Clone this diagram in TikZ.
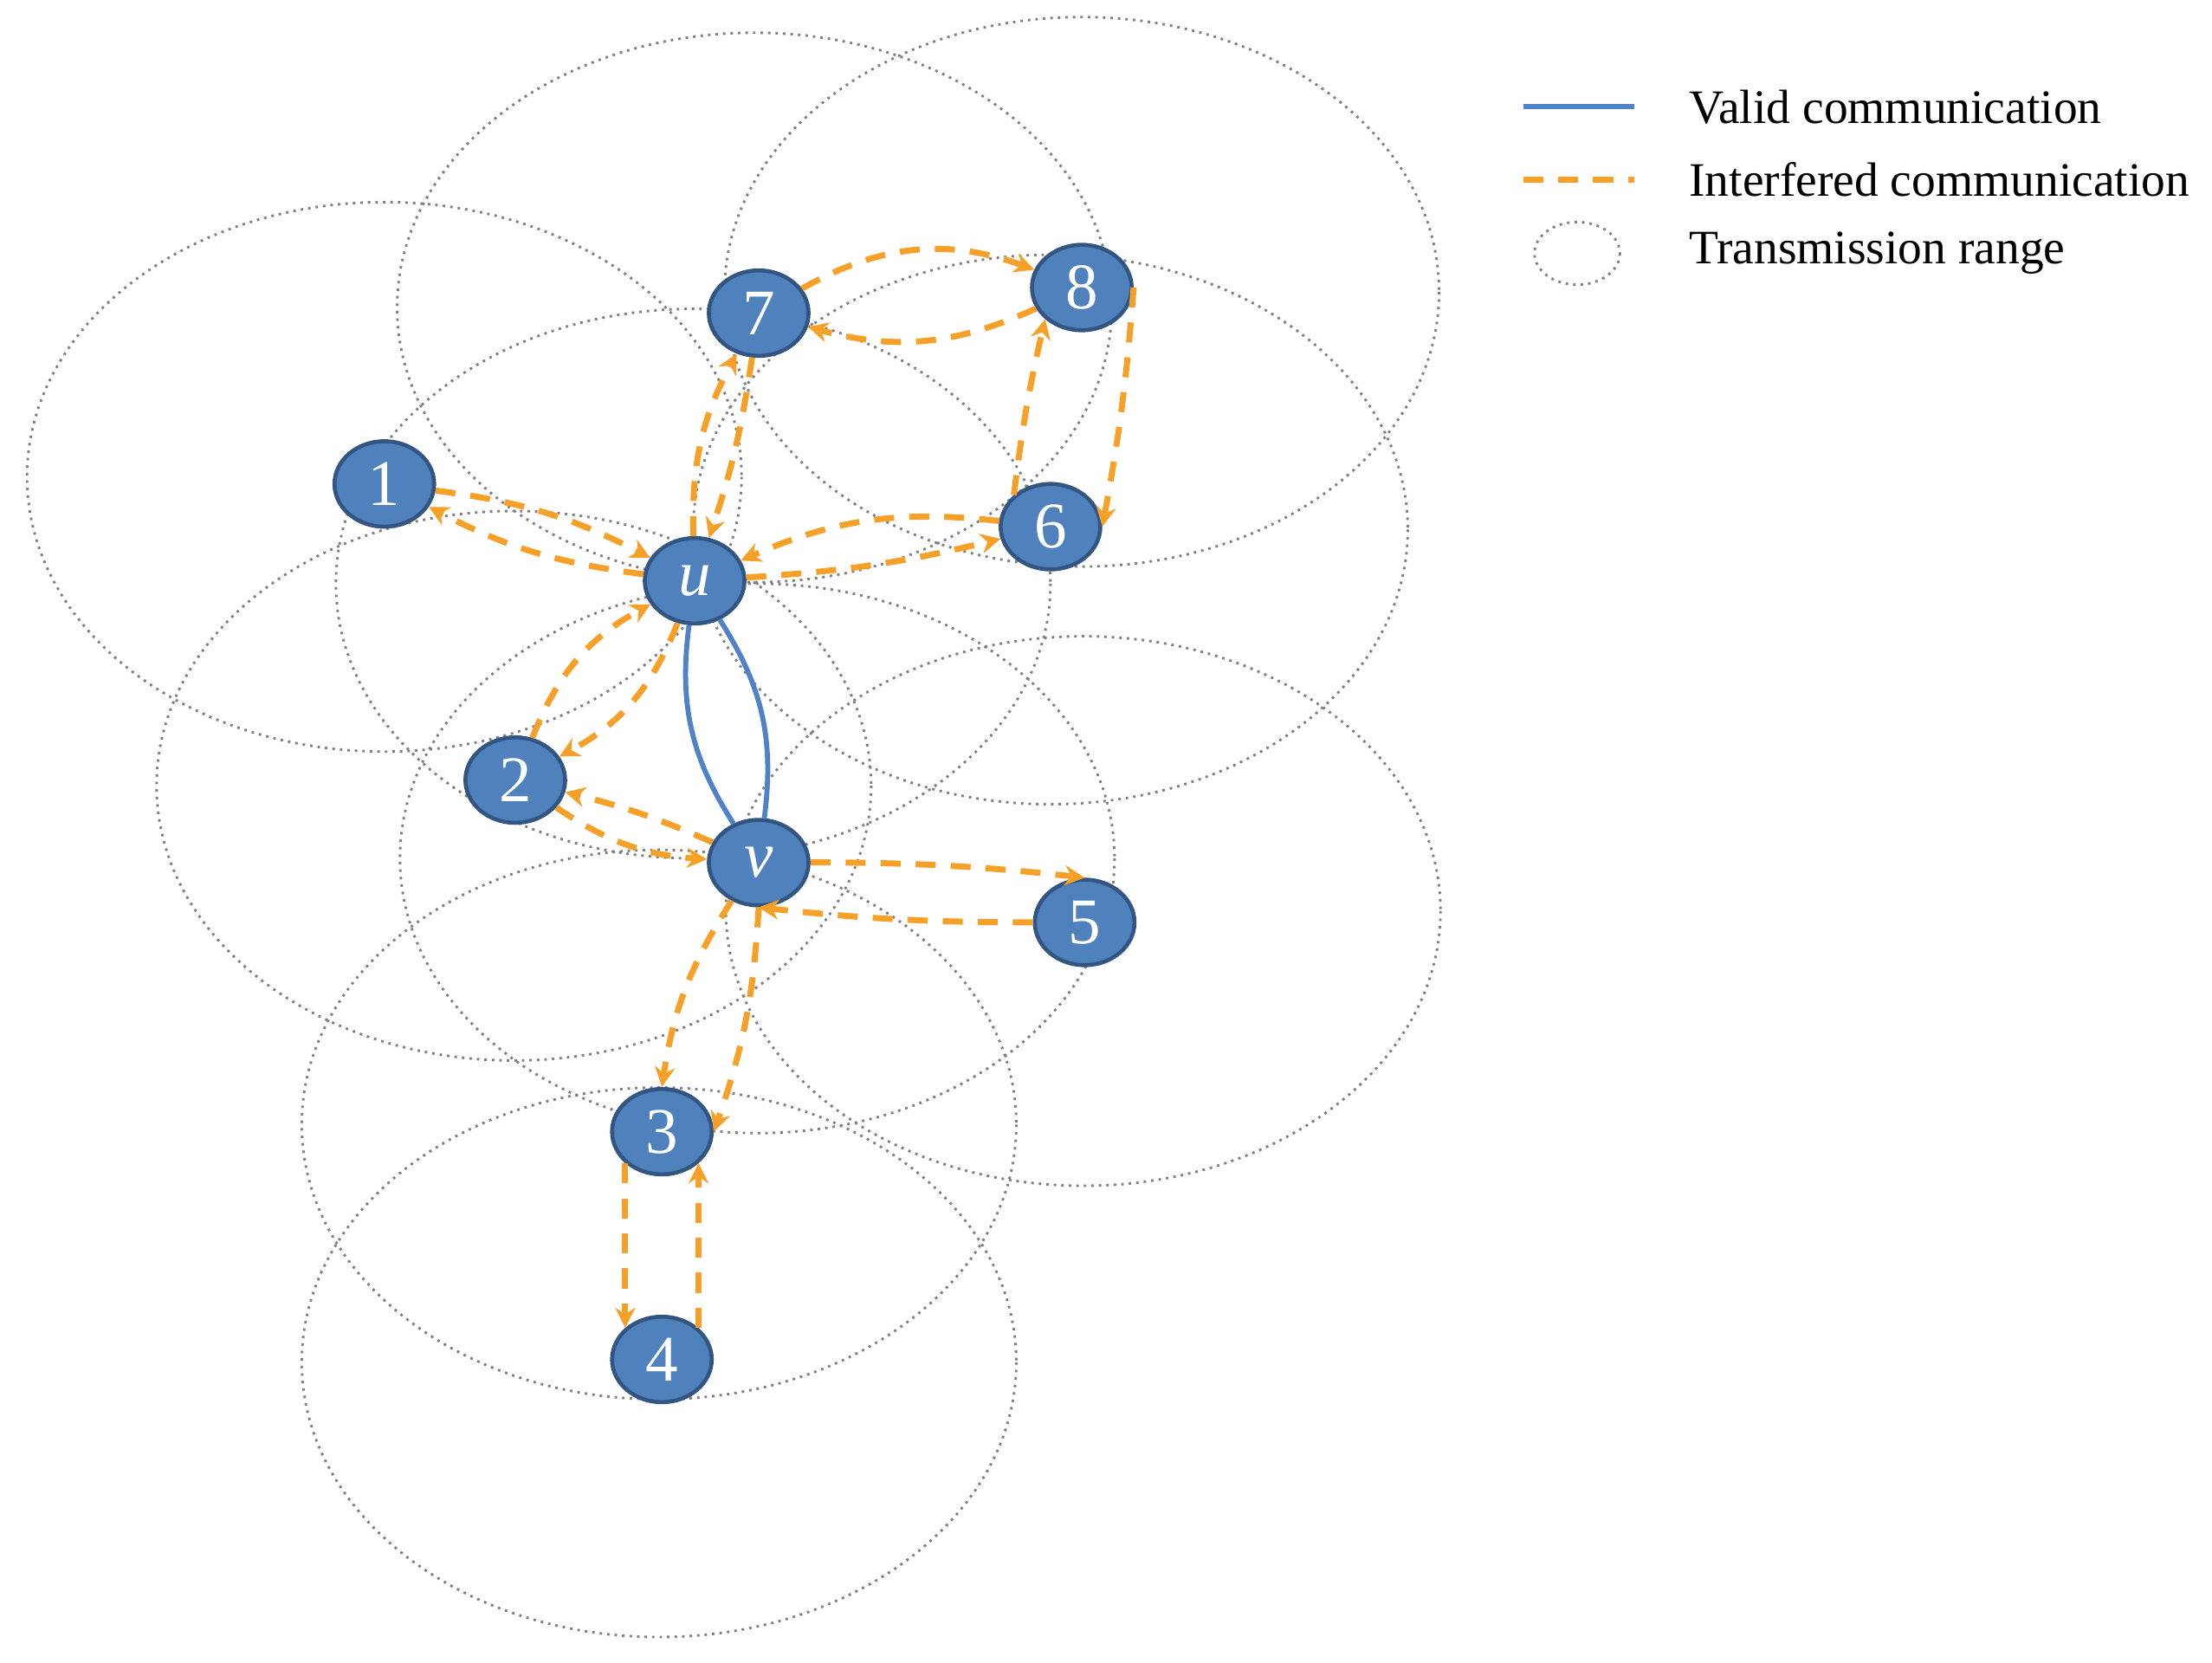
\documentclass[tikz,border=0pt]{standalone}
\usepackage{fontspec}
\setmainfont{Liberation Serif}
\usetikzlibrary{arrows.meta,shapes.geometric}
\definecolor{nblue}{RGB}{79,129,189}
\definecolor{nborder}{RGB}{50,85,130}
\definecolor{org}{RGB}{247,160,40}
\definecolor{vblue}{RGB}{80,130,200}
\begin{document}
\begin{tikzpicture}[x=0.01cm,y=-0.01cm,
 nd/.style={ellipse,fill=nblue,draw=nborder,line width=0.8pt,minimum width=0.7cm,minimum height=0.6cm,inner sep=0pt,text=white,font=\fontsize{13}{13}\selectfont},
 rng/.style={gray,densely dotted,line width=0.5pt},
 intf/.style={org,dashed,line width=1.2pt,dash pattern=on 4pt off 3pt,-{Stealth[length=4pt,width=4pt]}},
 valid/.style={vblue,line width=1pt},
 lab/.style={anchor=west,font=\fontsize{9.6}{12}\selectfont,inner sep=0pt}]
\useasboundingbox (0,0) rectangle (1554,1168);
\foreach \p in {(270,335),(487,410),(530,216),(760,205),(738,372),(361,552),(532,603),(761,640),(463,790),(463,957)}
  \draw[rng] \p ellipse [x radius=251,y radius=193];
\node[nd] (n1) at (270,340) {1};
\node[nd] (u) at (488,408) {\textit{u}};
\node[nd] (n7) at (533,220) {7};
\node[nd] (n8) at (760,202) {8};
\node[nd] (n6) at (738,370) {6};
\node[nd] (n2) at (362,548) {2};
\node[nd] (v) at (533,606) {\textit{v}};
\node[nd] (n5) at (762,648) {5};
\node[nd] (n3) at (465,795) {3};
\node[nd] (n4) at (465,955) {4};
\draw[intf] (n1) to[bend left=10] (u);
\draw[intf] (u) to[bend left=10] (n1);
\draw[intf] (u) to[bend left=15] (n7);
\draw[intf] (n7) to[bend left=5] (u);
\draw[intf] (n7) to[bend left=25] (n8);
\draw[intf] (n8) to[bend left=20] (n7);
\draw[intf] (n8.east) to[bend left=3] (n6.east);
\draw[intf] (n6.north west) to[bend left=3] (n8.south west);
\draw[intf] (n6) to[bend right=15] (u);
\draw[intf] (u) to[bend right=5] (n6);
\draw[intf] (u) to[bend left=20] (n2);
\draw[intf] (n2) to[bend left=20] (u);
\draw[intf] (n2) to[bend right=15] (v);
\draw[intf] (v) to[bend right=5] (n2);
\draw[intf] (v) to[bend left=3] (n5.north);
\draw[intf] (n5.west) to[bend left=3] (v.south);
\draw[intf] (v) to[bend right=12] (n3.north);
\draw[intf] (v.south) to[bend left=8] (n3.east);
\draw[intf] (n3.south west) to (n4.north west);
\draw[intf] (n4.north east) to (n3.south east);
\draw[valid] (u) to[bend right=20] (v);
\draw[valid] (u) to[bend left=20] (v);
\coordinate (l1a) at (1070,75); \coordinate (l1b) at (1148,75);
\coordinate (l2a) at (1070,126); \coordinate (l2b) at (1148,126);
\draw[valid] (l1a) -- (l1b);
\draw[org,line width=1.2pt,dash pattern=on 4pt off 3pt] (l2a) -- (l2b);
\draw[rng] (1108,178) ellipse [x radius=30,y radius=22];
\node[lab] (t1) at (1186,75) {Valid communication};
\node[lab] (t2) at (1186,126) {Interfered communication};
\node[lab] (t3) at (1186,178) {Transmission range};
\end{tikzpicture}
\end{document}
